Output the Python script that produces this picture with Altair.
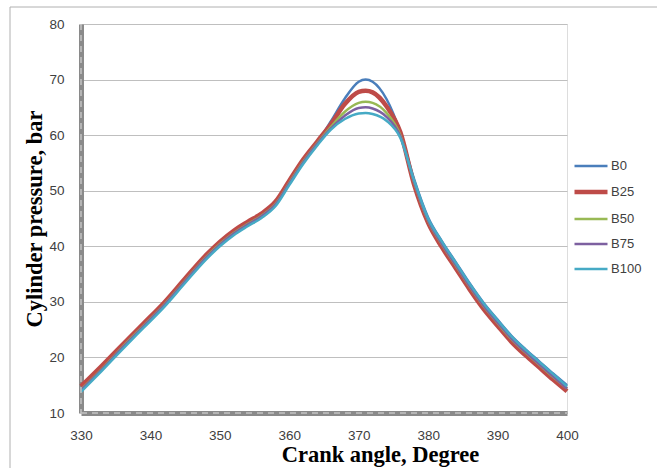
import altair as alt
import pandas as pd

angles = [330, 333, 336, 339, 342, 345, 348, 350, 352, 354, 356, 358, 360, 362, 364,
          366, 368, 370, 371, 372, 374, 376, 378, 380, 382, 384, 386, 388, 390, 392,
          394, 396, 398, 400]

b0 = [14.4, 18.2, 22.0, 25.8, 29.6, 33.9, 38.1, 40.5, 42.5, 44.1, 45.6, 47.7, 51.5, 55.3, 58.6,
      62.5, 66.6, 69.6, 70.0, 69.6, 66.5, 60.5, 52.0, 45.2, 40.9, 37.1, 33.3, 29.8, 26.8, 23.9,
      21.5, 19.3, 17.1, 15.0]
b25 = [14.8, 18.5, 22.3, 26.1, 29.9, 34.2, 38.4, 40.8, 42.8, 44.4, 45.9, 48.0, 51.8, 55.6, 58.8,
       62.0, 65.6, 67.8, 68.0, 67.7, 65.2, 60.5, 51.0, 44.2, 39.8, 36.0, 32.2, 28.7, 25.7, 22.8,
       20.4, 18.2, 16.0, 13.9]
b50 = [14.2, 17.9, 21.9, 25.7, 29.5, 33.8, 38.0, 40.4, 42.4, 44.0, 45.5, 47.6, 51.4, 55.2, 58.5,
       61.5, 64.2, 65.8, 66.0, 65.8, 64.0, 60.0, 51.4, 44.6, 40.3, 36.5, 32.7, 29.2, 26.2, 23.3,
       20.9, 18.7, 16.5, 14.4]
b75 = [14.1, 17.8, 21.8, 25.6, 29.4, 33.7, 37.9, 40.3, 42.3, 43.9, 45.4, 47.5, 51.3, 55.1, 58.4,
       61.2, 63.5, 64.9, 65.0, 64.8, 63.3, 59.8, 51.5, 44.7, 40.4, 36.6, 32.8, 29.3, 26.3, 23.4,
       21.0, 18.8, 16.6, 14.4]
b100 = [13.8, 17.6, 21.5, 25.3, 29.1, 33.4, 37.6, 40.0, 42.0, 43.6, 45.1, 47.2, 51.0, 54.8, 58.1,
        61.0, 62.9, 63.9, 64.0, 63.8, 62.6, 59.5, 51.8, 45.0, 40.8, 37.0, 33.2, 29.7, 26.7, 23.8,
        21.4, 19.2, 17.0, 14.8]

series_names = ["B0", "B25", "B50", "B75", "B100"]
series_values = [b0, b25, b50, b75, b100]
colors = ["#4a7ebb", "#be4b48", "#98b954", "#7d60a0", "#46aac5"]
widths = [2.5, 4.5, 2.5, 2.5, 2.5]

x_ticks = [330, 340, 350, 360, 370, 380, 390, 400]
y_ticks = [10, 20, 30, 40, 50, 60, 70, 80]

rows = []
for i, (name, vals) in enumerate(zip(series_names, series_values)):
    for a, v in zip(angles, vals):
        rows.append({"angle": a, "pressure": v, "series": name, "order": i})
df = pd.DataFrame(rows)

W, H = 486, 389

legend_kw = dict(title=None, orient="none", legendX=491, legendY=124,
                 symbolType="stroke", symbolSize=1089, rowPadding=0,
                 labelOffset=1, labelFontSize=13,
                 labelFont="Liberation Sans", labelColor="#404040")

lines = alt.Chart(df).mark_line(interpolate="monotone").encode(
    x=alt.X("angle:Q",
            scale=alt.Scale(domain=[330, 400], nice=False, zero=False),
            axis=alt.Axis(values=x_ticks, title="Crank angle, Degree", grid=False,
                          ticks=False, labelFlush=False, labelPadding=15, labelFontSize=13.5,
                          labelFont="Liberation Sans", labelColor="#404040",
                          domainColor="#8a8a8a", domainWidth=5,
                          titleFont="Liberation Serif", titleFontSize=22.5,
                          titleFontWeight="bold", titleColor="#000000",
                          titleX=299, titleY=41, titleBaseline="middle",
                          titleAnchor="middle", titleAlign="center")),
    y=alt.Y("pressure:Q",
            scale=alt.Scale(domain=[10, 80], nice=False, zero=False),
            axis=alt.Axis(values=y_ticks, title="Cylinder pressure, bar", grid=True,
                          gridColor="#bfbfbf", gridWidth=1, ticks=False, labelFlush=False,
                          labelPadding=17, labelFontSize=13.5,
                          labelFont="Liberation Sans", labelColor="#404040",
                          domainColor="#8a8a8a", domainWidth=5,
                          titleFont="Liberation Serif", titleFontSize=22.5,
                          titleFontWeight="bold", titleColor="#000000",
                          titleX=-47, titleY=H / 2, titleAngle=-90,
                          titleBaseline="middle", titleAlign="center")),
    color=alt.Color("series:N",
                    scale=alt.Scale(domain=series_names, range=colors),
                    legend=alt.Legend(**legend_kw)),
    strokeWidth=alt.StrokeWidth("series:N",
                                scale=alt.Scale(type="ordinal", domain=series_names, range=widths),
                                legend=alt.Legend(**legend_kw)),
    order=alt.Order("order:Q"),
)

one = alt.Data(values=[{"k": 1}])

y_dash = alt.Chart(one).mark_rule(color="#c4c4c4", strokeWidth=1.5, strokeDash=[6, 5]).encode(
    x=alt.value(0), y=alt.value(0), y2=alt.value(H)
)
x_dash = alt.Chart(one).mark_rule(color="#c4c4c4", strokeWidth=1.5, strokeDash=[6, 5]).encode(
    x=alt.value(0), x2=alt.value(W), y=alt.value(H)
)
frame = alt.Chart(one).mark_rect(fillOpacity=0, stroke="#b0b0b0", strokeWidth=1, clip=False).encode(
    x=alt.value(-71), x2=alt.value(700), y=alt.value(-17), y2=alt.value(520)
)

chart = alt.layer(frame, lines, y_dash, x_dash).properties(
    width=W, height=H,
    autosize=alt.AutoSizeParams(type="none"),
    padding={"left": 81, "top": 24, "right": 90, "bottom": 55},
).configure_view(stroke=None).configure(background="white")

chart.save("out.html", embed_options={"renderer": "svg", "actions": False})
